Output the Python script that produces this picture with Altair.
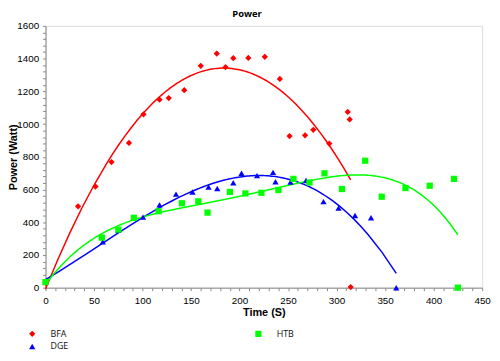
import altair as alt
import pandas as pd

# ---- data ----
BFA_x = [0, 33.5, 51.5, 68, 86, 101, 117.5, 127, 143, 160, 176.5, 185.5, 193.5,
         209, 226, 241.5, 251.5, 267.5, 276, 292.5, 311.5, 313.5, 314.5]
BFA_y = [30, 497, 618, 768, 885, 1060, 1149, 1159, 1207, 1356, 1431, 1348, 1403,
         1404, 1411, 1276, 927, 931, 965, 881, 1074, 1028, 4]

DGE_x = [0, 59, 75, 100.5, 117.5, 134.5, 151.5, 168, 177, 193.5, 202, 218, 234.5,
         237, 252.5, 268.5, 286.5, 302, 319, 335.5, 361.5]
DGE_y = [34, 280, 351, 431, 506, 572, 585, 615, 606, 641, 699, 685, 705,
         647, 645, 655, 526, 486, 441, 427, 0]

HTB_x = [0, 58, 75, 91, 116.5, 140.5, 157.5, 167, 190, 206, 222.5, 240, 255.5,
         272, 287.5, 305.5, 329.5, 346.5, 371, 396, 421, 425]
HTB_y = [34, 306, 355, 427, 467, 516, 528, 459, 585, 576, 580, 597, 665,
         643, 699, 603, 776, 556, 609, 623, 665, 0]

series_names = ["BFA", "DGE", "HTB"]
series_colors = ["#ff0000", "#0000ff", "#00ff00"]
series_shapes = ["diamond", "triangle-up", "square"]
trend_order = {"BFA": 2, "DGE": 3, "HTB": 4}

x_ticks = list(range(0, 451, 10))
y_ticks = list(range(0, 1601, 40))

rows = []
for name, xs, ys in (("BFA", BFA_x, BFA_y), ("DGE", DGE_x, DGE_y), ("HTB", HTB_x, HTB_y)):
    for xv, yv in zip(xs, ys):
        rows.append({"series": name, "x": xv, "y": yv})
df = pd.DataFrame(rows)

FONT = "Open Sans"

x_enc = alt.X("x:Q", scale=alt.Scale(domain=[0, 450], nice=False, zero=False),
              axis=alt.Axis(values=x_ticks, format="d",
                            labelExpr="datum.value % 50 == 0 ? datum.label : ''",
                            title="Time (S)", titleX=221, titleY=25, titleBaseline="middle",
                            titleAlign="center", grid=False, tickSize=3, labelPadding=5,
                            labelFlush=False))
y_enc = alt.Y("y:Q", scale=alt.Scale(domain=[0, 1600], nice=False, zero=False),
              axis=alt.Axis(values=y_ticks, format="d",
                            labelExpr="datum.value % 200 == 0 ? datum.label : ''",
                            title="Power (Watt)", titleX=-32, titleY=132.5, titleAngle=-90,
                            titleBaseline="middle", titleAlign="center", grid=False,
                            tickSize=3, labelPadding=4))

base = alt.Chart(df)

points = base.mark_point(filled=True, opacity=1, size=40).encode(
    x=x_enc, y=y_enc,
    color=alt.Color("series:N", scale=alt.Scale(domain=series_names, range=series_colors),
                    legend=alt.Legend(title=None, orient="none", legendX=-18, legendY=307,
                                      direction="vertical",
                                      columns=2, columnPadding=187, rowPadding=3,
                                      labelOffset=14, symbolSize=40, labelFontSize=9,
                                      labelFont=FONT, labelColor="#111", padding=0)),
    shape=alt.Shape("series:N", scale=alt.Scale(domain=series_names, range=series_shapes)),
)

lines = []
for name, col in zip(series_names, series_colors):
    lines.append(
        base.transform_filter(alt.datum.series == name)
        .transform_regression("x", "y", method="poly", order=trend_order[name])
        .mark_line(color=col, strokeWidth=1.5)
        .encode(x=x_enc, y=y_enc)
    )

chart = alt.layer(*lines, points).properties(
    width=442, height=265,
    autosize=alt.AutoSizeParams(type="none"),
    padding={"left": 38, "top": 16, "right": 10, "bottom": 64},
    title=alt.TitleParams("Power", fontSize=9.5, fontWeight="bold", anchor="middle",
                          frame="group", dx=-17, offset=3, font=FONT, color="black"),
).configure_view(stroke="#666", strokeWidth=1.5).configure_axis(
    labelFont=FONT, labelFontSize=8, labelColor="#222",
    titleFont=FONT, titleFontSize=8.5, titleFontWeight="bold", titleColor="#111",
    domainColor="#aaa", domainWidth=1.5, tickColor="#aaa",
).configure(background="white")

chart.save("out.html", embed_options={"renderer": "svg", "actions": False})
